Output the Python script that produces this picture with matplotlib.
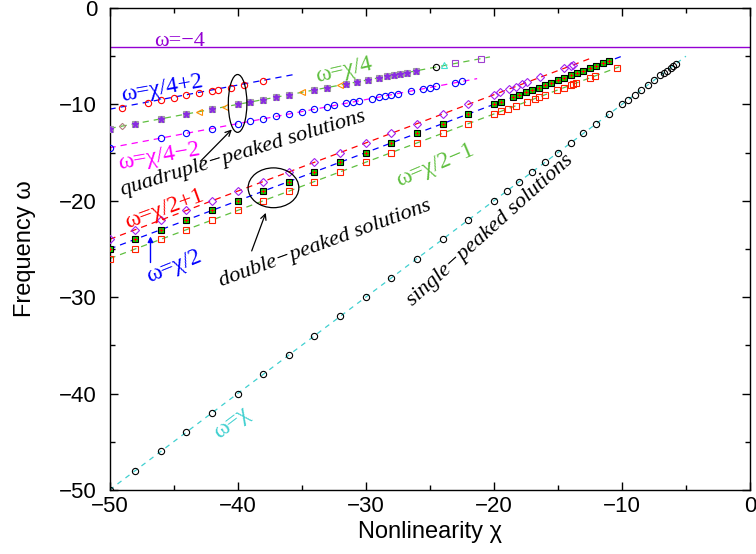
import matplotlib
matplotlib.use("Agg")
import matplotlib.pyplot as plt
from matplotlib.patches import Ellipse

# single-peaked solutions (omega = chi)
single_x = [-50, -48, -46, -44, -42, -40, -38, -36, -34, -32, -30, -28, -26, -24, -22, -20,
            -19, -18, -17, -16, -15, -14, -13, -12, -11, -10, -9.5, -9, -8.5, -8, -7.5, -7,
            -6.7, -6.5, -6.2, -6.0, -5.8]
single_y = [-50, -48, -46, -44, -42, -40, -38, -36, -34, -32, -30, -28, -26, -24, -22, -20,
            -19, -18, -17, -16, -15, -14, -13, -12, -11, -10, -9.5, -9, -8.5, -8, -7.5, -7,
            -6.7, -6.5, -6.2, -6.0, -5.8]

# double-peaked solutions
double_hi_x = [-50, -48, -46, -44, -42, -40, -38, -36, -34, -32, -30, -28, -26, -24, -22, -20,
               -19.5, -18.8, -18.3, -17.8, -17.4, -16.4, -14.5, -14.0, -13.8]
double_hi_y = [-24, -23, -22, -21, -20, -19, -18, -17, -16, -15, -14, -13, -12, -11, -10, -9,
               -8.75, -8.4, -8.15, -7.9, -7.7, -7.2, -6.25, -6.0, -5.9]
double_mid_x = [-50, -48, -46, -44, -42, -40, -38, -36, -34, -32, -30, -28, -26, -24, -22, -20,
                -19.4, -18.5, -18, -17.5, -17, -16.5, -16, -15.5, -15, -14.5, -14, -13.5, -13,
                -12.5, -12, -11.5, -11]
double_mid_y = [-25, -24, -23, -22, -21, -20, -19, -18, -17, -16, -15, -14, -13, -12, -11, -10,
                -9.7, -9.25, -9, -8.75, -8.5, -8.25, -8, -7.75, -7.5, -7.25, -7, -6.75, -6.5,
                -6.25, -6, -5.75, -5.5]
double_lo_x = [-50, -48, -46, -44, -42, -40, -38, -36, -34, -32, -30, -28, -26, -24, -22, -20,
               -19.4, -18.9, -18.3, -17.4, -16.8, -16.5, -16, -15.1, -14.5, -14, -13.8, -13.6,
               -12.5, -12.1, -10.4]
double_lo_y = [-26, -25, -24, -23, -22, -21, -20, -19, -18, -17, -16, -15, -14, -13, -12, -11,
               -10.7, -10.45, -10.15, -9.7, -9.4, -9.25, -9, -8.55, -8.25, -8, -7.9, -7.8,
               -7.25, -7.05, -6.2]

# quadruple-peaked solutions
quad_hi_x = [-49, -47, -46, -45, -44, -43, -42, -41.5, -40.5, -39.5, -38]
quad_hi_y = [-10.35, -9.85, -9.55, -9.3, -9.05, -8.85, -8.6, -8.5, -8.25, -8.0, -7.6]
quad_mid_x = [-50, -49, -48, -46, -44, -43, -42, -41, -40, -39, -38, -37, -36, -35, -34, -33,
              -32, -31.5, -30.7, -29.8, -29, -28.3, -27.8, -27.3, -26.8, -26.1, -24.5, -23.9,
              -23, -21]
quad_mid_y = [-12.5, -12.25, -12, -11.5, -11, -10.75, -10.5, -10.25, -10, -9.75, -9.5, -9.25,
              -9, -8.75, -8.5, -8.25, -8, -7.9, -7.7, -7.45, -7.25, -7.1, -6.95, -6.8, -6.7,
              -6.5, -6.1, -5.95, -5.75, -5.25]
quad_lo_x = [-50, -46, -44, -42, -40, -39, -38, -37, -36, -35, -34, -33, -32.5, -31.5, -31,
             -30.5, -29.5, -29, -28.5, -28, -27.5, -26.5, -25.5, -25, -24.5, -23, -22.5]
quad_lo_y = [-14.5, -13.5, -13, -12.5, -12, -11.75, -11.5, -11.25, -11, -10.75, -10.5, -10.25,
             -10.1, -9.9, -9.75, -9.6, -9.4, -9.25, -9.1, -9, -8.9, -8.6, -8.4, -8.25, -8.1,
             -7.75, -7.6]

# guide lines (chi start, chi end, omega start, omega end)
guide_names = ["q_hi", "q_mid", "q_lo", "d_hi", "d_mid", "d_lo", "single"]
guide_x0 = [-50, -50, -50, -50, -50, -50, -50]
guide_x1 = [-35.5, -20.3, -21.3, -12.2, -10.0, -10.2, -5.0]
guide_y0 = [-10.5, -12.5, -14.5, -24, -25, -26, -50]
guide_y1 = [-6.875, -5.075, -7.325, -5.1, -5.0, -6.1, -5.0]
guide_colors = ["#0000ff", "#5fbf3f", "#ff00ff", "#ff0000", "#0000ff", "#5fbf3f", "#40d0d0"]

const_omega = -4

serif = ["Liberation Serif", "DejaVu Serif"]
sans = ["Liberation Sans", "DejaVu Sans"]

fig = plt.figure(figsize=(7.56, 5.54), dpi=100)
ax = fig.add_axes([109.5 / 756, 64 / 554, 640.5 / 756, 482 / 554])

for i in range(len(guide_names)):
    dash = (4, 4) if guide_names[i] == "single" else (5, 4)
    ax.plot([guide_x0[i], guide_x1[i]], [guide_y0[i], guide_y1[i]], color=guide_colors[i],
            lw=0.9, dashes=dash, zorder=1)

ax.axhline(const_omega, color="#9400d3", lw=1.0, zorder=1)

mk = dict(ms=4.5, mew=0.8, ls="none", zorder=3)

# single
ax.plot(single_x, single_y, "o", mfc="none", mec="black", **mk)

# double
ax.plot(double_hi_x, double_hi_y, "D", mfc="none", mec="#a020f0", ms=3.6, mew=0.8, ls="none", zorder=3)
ax.plot(double_mid_x, double_mid_y, "s", mfc="#00dd00", mec="black", **mk)
ax.plot(double_mid_x, double_mid_y, "+", color="red", ms=3.5, mew=0.8, ls="none", zorder=4)
ax.plot(double_lo_x, double_lo_y, "s", mfc="none", mec="#ff2000", ms=4.0, mew=0.8, ls="none", zorder=3)

# quadruple
ax.plot(quad_hi_x, quad_hi_y, "o", mfc="none", mec="red", **mk)
ax.plot(quad_lo_x, quad_lo_y, "o", mfc="none", mec="blue", **mk)
tri_idx = [5, 7, 13, 16]
sq_idx = [i for i in range(len(quad_mid_x)) if i not in tri_idx + [1, 26, 27, 28, 29]]
ax.plot([quad_mid_x[i] for i in sq_idx], [quad_mid_y[i] for i in sq_idx], "s",
        mfc="#b0b0b0", mec="#a0a0a0", **mk)
ax.plot([quad_mid_x[i] for i in sq_idx], [quad_mid_y[i] for i in sq_idx], "*",
        color="#8a2be2", ms=5, ls="none", zorder=4)
ax.plot([quad_mid_x[i] for i in tri_idx], [quad_mid_y[i] for i in tri_idx], "<",
        mfc="none", mec="#ff8c00", **mk)
ax.plot(quad_mid_x[1], quad_mid_y[1], "D", mfc="none", mec="#b08080", ms=3.2, mew=0.8, zorder=3)
ax.plot(quad_mid_x[26], quad_mid_y[26], "o", mfc="none", mec="black", **mk)
ax.plot(quad_mid_x[27], quad_mid_y[27], "^", mfc="none", mec="#40e0d0", **mk)
ax.plot(quad_mid_x[28:], quad_mid_y[28:], "s", mfc="none", mec="#a040d0", ms=4.0, mew=0.8,
        ls="none", zorder=3)

# ellipses and arrows
ax.add_patch(Ellipse((-40.0, -9.9), 1.45, 6.0, fill=False, ec="black", lw=0.9, zorder=5))
ax.add_patch(Ellipse((-37.2, -18.65), 3.96, 4.13, fill=False, ec="black", lw=0.9, zorder=5))
arr = dict(arrowstyle="->", color="black", lw=0.9, shrinkA=0, shrinkB=0)
ax.annotate("", xy=(-40.45, -12.6), xytext=(-42.9, -15.9), arrowprops=arr)
ax.annotate("", xy=(-37.8, -21.25), xytext=(-38.9, -25.2), arrowprops=arr)
ax.annotate("", xy=(-46.8, -23.7), xytext=(-46.8, -26.4),
            arrowprops=dict(arrowstyle="-|>", color="blue", lw=1.0, shrinkA=0, shrinkB=0,
                            mutation_scale=8))

# labels
ax.text(-44.5, -3.45, "ω=−4", color="#9400d3", family=serif, fontsize=16, ha="center", va="center")
ax.text(-45.9, -8.3, "ω=χ/4+2", color="#0000ff", family=serif, fontsize=17, ha="center",
        va="center", rotation=10)
ax.text(-31.7, -6.5, "ω=χ/4", color="#5fbf3f", family=serif, fontsize=17, ha="center",
        va="center", rotation=13)
ax.text(-46.1, -15.4, "ω=χ/4−2", color="#ff00ff", family=serif, fontsize=17, ha="center",
        va="center", rotation=10)
ax.text(-39.6, -15.1, "quadruple−peaked solutions", color="black", family=serif,
        style="italic", fontsize=16, ha="center", va="center", rotation=17)
ax.text(-45.7, -20.9, "ω=χ/2+1", color="#ff0000", family=serif, fontsize=17, ha="center",
        va="center", rotation=20)
ax.text(-45.0, -26.8, "ω=χ/2", color="#0000ff", family=serif, fontsize=17, ha="center",
        va="center", rotation=22)
ax.text(-33.2, -24.5, "double−peaked solutions", color="black", family=serif,
        style="italic", fontsize=16, ha="center", va="center", rotation=20)
ax.text(-24.6, -16.3, "ω=χ/2−1", color="#5fbf3f", family=serif, fontsize=17, ha="center",
        va="center", rotation=23)
ax.text(-20.3, -23.1, "single−peaked solutions", color="black", family=serif,
        style="italic", fontsize=16, ha="center", va="center", rotation=42)
ax.text(-40.5, -43.0, "ω=χ", color="#40d0d0", family=serif, fontsize=17, ha="center",
        va="center", rotation=37)

ax.set_xlim(-50, 0)
ax.set_ylim(-50, 0)
ax.set_xticks([-50, -40, -30, -20, -10, 0])
ax.set_yticks([-50, -40, -30, -20, -10, 0])
ax.set_xticks([-45, -35, -25, -15, -5], minor=True)
ax.set_yticks([-45, -35, -25, -15, -5], minor=True)
ax.tick_params(which="both", direction="in", top=True, right=True, labelsize=16, width=1)
ax.tick_params(which="major", length=6)
ax.tick_params(which="minor", length=3.5)
ax.tick_params(axis="y", which="major", pad=9)
ax.tick_params(axis="x", which="major", pad=4)
for lab in ax.get_xticklabels() + ax.get_yticklabels():
    lab.set_family(sans)
ax.set_xlabel("Nonlinearity χ", family=sans, fontsize=17)
ax.set_ylabel("Frequency ω", family=sans, fontsize=17)
ax.xaxis.set_label_coords(0.5, -0.064)
ax.yaxis.set_label_coords(-0.114, 0.5)
for s in ax.spines.values():
    s.set_linewidth(1.0)

fig.savefig("out.png", dpi=100)
